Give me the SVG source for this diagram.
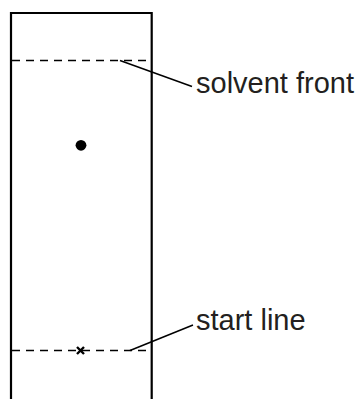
<svg xmlns="http://www.w3.org/2000/svg" width="357" height="399" viewBox="0 0 357 399">
<style>
.frame{fill:none;stroke:#000;stroke-width:2.2}
.dash{fill:none;stroke:#000;stroke-width:1.4;stroke-dasharray:8,6}
.lead{fill:none;stroke:#000;stroke-width:1.5}
.lbl{font-family:"Liberation Sans",Arial,sans-serif;font-size:29px;fill:#231f20}
</style>
<rect width="357" height="399" fill="#fff"/>
<g id="plate">
<path class="frame" d="M11,399 V13 H151.7 V399"/>
<line class="dash" x1="12" y1="60.5" x2="151" y2="60.5"/>
<line class="dash" x1="12" y1="350.5" x2="151" y2="350.5"/>
<circle cx="81" cy="145.3" r="5.4" fill="#000"/>
<path d="M77,347 L84,354 M84,347 L77,354" stroke="#000" stroke-width="2.4"/>
</g>
<g id="connectors">
<line class="lead" x1="120" y1="60.5" x2="192" y2="86.5"/>
<line class="lead" x1="130" y1="350.5" x2="193" y2="325"/>
</g>
<g id="label-solvent"><text class="lbl" x="196" y="93">solvent front</text></g>
<g id="label-start"><text class="lbl" x="196" y="330">start line</text></g>
</svg>
